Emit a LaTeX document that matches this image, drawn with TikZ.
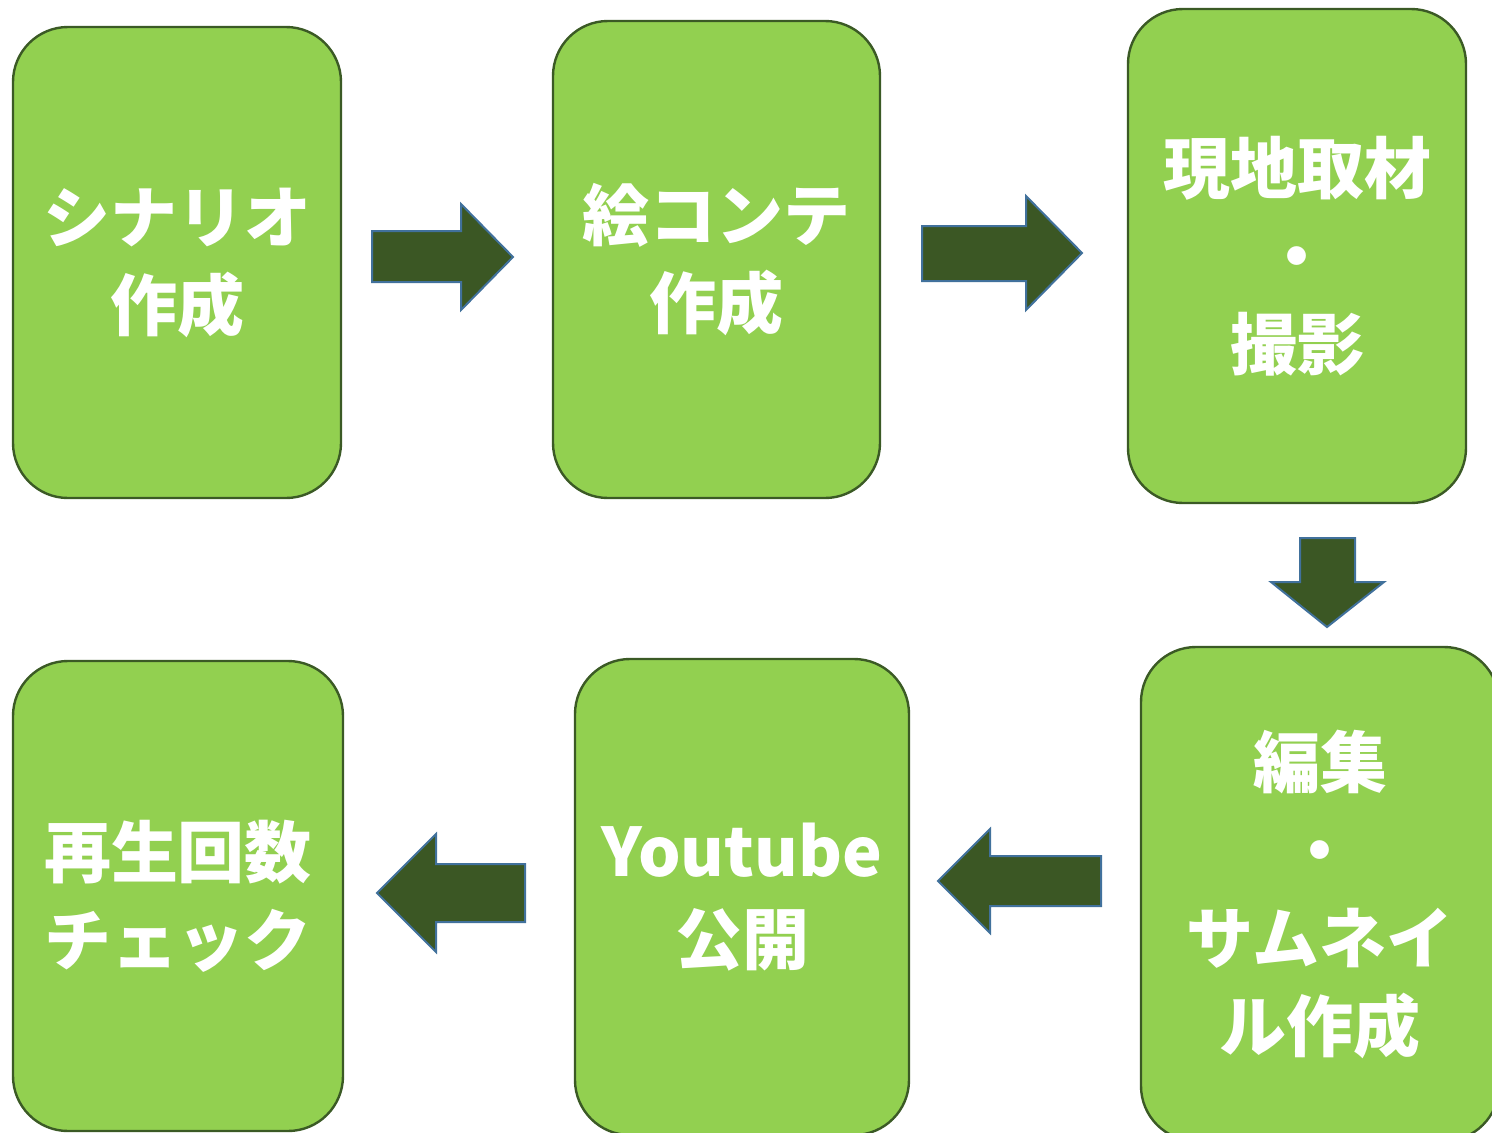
\documentclass[tikz,border=0pt]{standalone}
\usepackage{fontspec}
\newfontfamily\jp{Noto Sans CJK JP}
\definecolor{boxfill}{HTML}{92D050}
\definecolor{boxline}{HTML}{3B5A25}
\definecolor{arrfill}{HTML}{3B5724}
\definecolor{arrline}{HTML}{41719C}
\begin{document}
\begin{tikzpicture}[x=1pt,y=-1pt,
  stage/.style={draw=boxline, fill=boxfill, line width=2.4pt, rounded corners=55pt,
    inner sep=0pt, text=white, align=center,
    font=\jp\bfseries\fontsize{67}{88}\selectfont},
  blockarrow/.style={draw=arrline, fill=arrfill, line width=2pt, line join=miter}]
\clip (0,0) rectangle (1492,1133);
\useasboundingbox (0,0) rectangle (1492,1133);
\fill[white] (0,0) rectangle (1492,1133);
% boxes
\node[stage, minimum width=328pt, minimum height=471pt] (s1) at (177,262.5) {シナリオ\\作成};
\node[stage, minimum width=327pt, minimum height=477pt] (s2) at (716.5,259.5) {絵コンテ\\作成};
\node[stage, minimum width=338pt, minimum height=494pt] (s3) at (1297,256) {現地取材\\・\\撮影};
\node[stage, minimum width=358pt, minimum height=494pt] (s4) at (1320,894) {編集\\・\\サムネイ\\ル作成};
\node[stage, minimum width=334pt, minimum height=476pt] (s5) at (742,897) {Youtube\\公開};
\node[stage, minimum width=330pt, minimum height=470pt] (s6) at (178,896) {再生回数\\チェック};
% arrows
\draw[blockarrow] (372,231) -- (461,231) -- (461,204) -- (513,257) -- (461,310) -- (461,282) -- (372,282) -- cycle;
\draw[blockarrow] (922,226) -- (1026,226) -- (1026,196) -- (1082,253) -- (1026,310) -- (1026,281) -- (922,281) -- cycle;
\draw[blockarrow] (1300,538) -- (1355,538) -- (1355,582) -- (1384,582) -- (1327,627) -- (1271,582) -- (1300,582) -- cycle;
\draw[blockarrow] (1101,856) -- (990,856) -- (990,829) -- (938,881) -- (990,933) -- (990,906) -- (1101,906) -- cycle;
\draw[blockarrow] (525,864) -- (436,864) -- (436,834) -- (377,893) -- (436,952) -- (436,922) -- (525,922) -- cycle;
\end{tikzpicture}
\end{document}
